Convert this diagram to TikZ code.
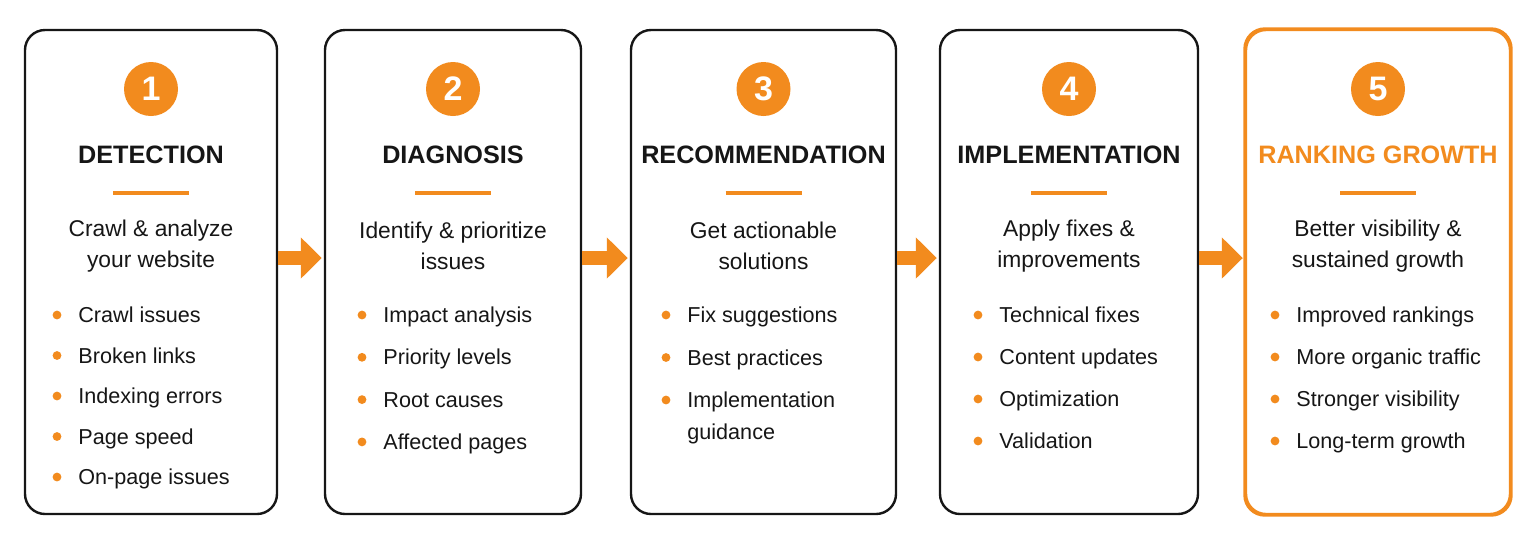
\documentclass[tikz,border=0pt]{standalone}
\usepackage{fontspec}
\setmainfont{Liberation Sans}
\usetikzlibrary{arrows.meta}

\definecolor{seoorange}{RGB}{242,139,30}
\definecolor{seoink}{RGB}{22,22,22}

\tikzset{
  stepbox/.style={draw=#1, line width=1.2pt, rounded corners=10pt, fill=white, inner sep=0pt},
  numdot/.style={circle, fill=seoorange, text=white, minimum size=27pt, inner sep=0pt,
    font=\fontsize{17}{17}\selectfont\bfseries},
  steptitle/.style={font=\fontsize{12.6}{15}\selectfont\bfseries, inner sep=0pt},
  stepdesc/.style={font=\fontsize{11.4}{15.5}\selectfont, text=seoink, align=center, inner sep=0pt},
  bullettext/.style={font=\fontsize{10.8}{16}\selectfont, text=seoink, anchor=base west, inner sep=0pt},
  flowarrow/.style={draw=seoorange, line width=7pt, -{Triangle[length=10.5pt,width=20pt]}},
}

\begin{document}
\begin{tikzpicture}[x=0.5pt, y=-0.5pt]
  \useasboundingbox (0,0) rectangle (1535,543);
  \def\ytop{30}
  \def\ybot{514}
  % one column per step
  \foreach \i/\xl/\xr/\dx/\sp/\bcol/\tcol/\title/\desc/\items in {
    1/25/277/57/40.5/seoink/seoink/DETECTION/{Crawl \& analyze\\your website}/{Crawl issues,Broken links,Indexing errors,Page speed,On-page issues},
    2/325/581/362/42.3/seoink/seoink/DIAGNOSIS/{Identify \& prioritize\\issues}/{Impact analysis,Priority levels,Root causes,Affected pages},
    3/631/896/666/42.5/seoink/seoink/RECOMMENDATION/{Get actionable\\solutions}/{Fix suggestions,Best practices,{\vtop{\hbox{Implementation}\hbox{guidance}}}},
    4/940/1198/978/42.0/seoink/seoink/IMPLEMENTATION/{Apply fixes \&\\improvements}/{Technical fixes,Content updates,Optimization,Validation},
    5/1246/1510/1275/42.0/seoorange/seoorange/RANKING GROWTH/{Better visibility \&\\sustained growth}/{Improved rankings,More organic traffic,Stronger visibility,Long-term growth}%
  }{
    \pgfmathsetmacro{\cx}{(\xl+\xr)/2}
    \pgfmathsetmacro{\bw}{(\xr-\xl)/2}
    \pgfmathsetmacro{\bh}{(\ybot-\ytop)/2}
    \node[stepbox=\bcol, minimum width=\bw pt, minimum height=\bh pt] (b\i) at (\cx,{(\ytop+\ybot)/2}) {};
    \node[numdot] (n\i) at (\cx,89) {\i};
    \node[steptitle, text=\tcol] (t\i) at (\cx,155) {\title};
    \draw[seoorange, line width=2pt] (\cx-38,193) -- (\cx+38,193);
    \node[stepdesc] (d\i) at (\cx,246) {\desc};
    \foreach \lab [count=\k from 0] in \items {
      \pgfmathsetmacro{\yy}{315 + \sp*\k}
      \fill[seoorange] (\dx,\yy) circle (2.2pt);
      \node[bullettext] (l\i-\k) at (\dx+21,\yy+7.5) {\lab};
    }
  }
  \draw[seoorange, line width=1.5pt, rounded corners=10pt] (b5.south west) rectangle (b5.north east);
  % arrows between steps
  \foreach \a/\b in {1/2,2/3,3/4,4/5}{
    \draw[flowarrow] ([yshift=7pt]b\a.east) -- ([yshift=7pt,xshift=-1pt]b\b.west);
  }
\end{tikzpicture}
\end{document}
